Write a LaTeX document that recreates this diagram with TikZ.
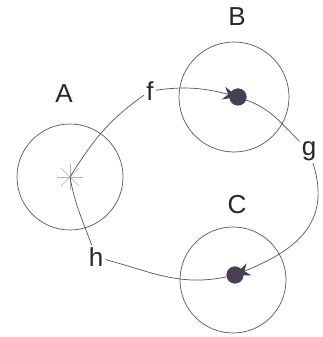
\documentclass[tikz,border=0pt]{standalone}
\usepackage{fontspec}
\setmainfont{Liberation Sans}
\usetikzlibrary{arrows.meta}
\definecolor{dotcol}{RGB}{72,64,82}
\definecolor{linecol}{RGB}{85,85,85}

\begin{document}
\begin{tikzpicture}[x=1pt,y=1pt,
  ring/.style={draw=linecol,line width=0.7pt},
  link/.style={draw=linecol,line width=0.7pt},
  lab/.style={font=\fontsize{26}{30}\selectfont,inner sep=2pt,text=black!85},
  spot/.style={circle,fill=dotcol,minimum size=17pt,inner sep=0pt},
  tip/.style={-{Stealth[length=15pt,width=13pt,color=dotcol]}}]
\useasboundingbox (0,0) rectangle (323,337);
%\draw[help lines,step=10] (0,0) grid (323,337);

% the three places
\coordinate (A) at (70,160);
\coordinate (Bc) at (234,240);
\coordinate (Cc) at (233,57);
\draw[ring] (A) circle (53);
\draw[ring] (Bc) circle (55);
\draw[ring] (Cc) circle (53);
\foreach \a in {0,45,...,315}
  \draw[gray!60,line width=0.6pt] (A) -- ++(\a:13);

% labels
\node[lab] (la) at (64,243) {A};
\node[lab] (lb) at (237,320) {B};
\node[lab] (lc) at (237,132) {C};
\node[lab] (f) at (150,246) {f};
\node[lab] (g) at (309,186) {g};
\node[lab] (h) at (96,80) {h};

\node[spot] (Bd) at (238,240) {};
\node[spot] (Cd) at (235,62) {};

% the loop
\draw[link] (A) to[out=58,in=-145] (f);
\draw[link,tip] (f) to[out=8,in=165] (Bd.center);
\draw[link] (Bd) to[out=-20,in=135] (g);
\draw[link,tip] (g) to[out=-72,in=22,looseness=1.2] (Cd.center);
\draw[link] (Cd) to[out=192,in=-15] (h);
\draw[link] (h) to[out=110,in=-80] (A);
%\draw[link,tip] (g) to[out=-70,in=20] (Cd);

\node[spot] at (Bd) {};
\node[spot] at (Cd) {};
\end{tikzpicture}
\end{document}
